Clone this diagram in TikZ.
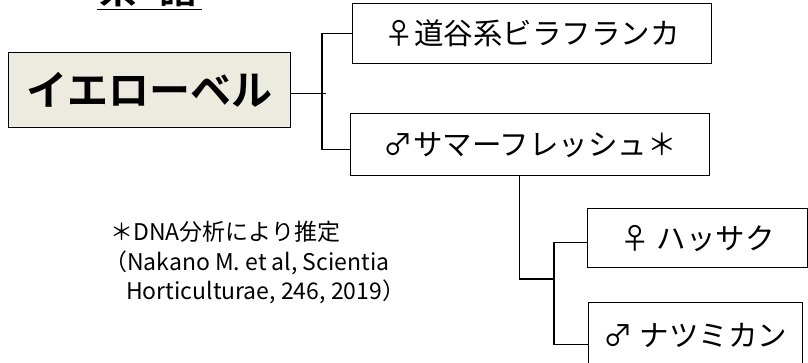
\documentclass[tikz,border=0pt]{standalone}
\usepackage{fontspec}
\setmainfont{Noto Sans CJK JP}
\newfontfamily\jpbold{Noto Sans CJK JP Bold}
\begin{document}
\begin{tikzpicture}[x=1pt,y=-1pt,
  cbox/.style={draw=black,line width=1.3pt,fill=white,inner sep=0pt,anchor=north west,font=\fontsize{29.5}{31}\selectfont},
  note/.style={anchor=west,inner sep=0pt,font=\fontsize{23}{25}\selectfont},
  link/.style={line width=1.2pt}]
\useasboundingbox (0,0) rectangle (808,362);
\clip (0,0) rectangle (808,362);
% title (cut off at the top edge, as in the reference)
\node[anchor=base,inner sep=0pt,font=\jpbold\fontsize{38}{40}\selectfont] (title1) at (118,3) {系};
\node[anchor=base,inner sep=0pt,font=\jpbold\fontsize{38}{40}\selectfont] (title2) at (178,3) {譜};
\draw[line width=1.5pt] (97,9.5) coordinate (ul1) -- (202,9.5) coordinate (ul2);
% main
\node[cbox,fill={rgb,255:red,237;green,234;blue,223},minimum width=282pt,minimum height=75pt,font=\jpbold\fontsize{41}{43}\selectfont] (main) at (8,52) {イエローベル};
\node[cbox,minimum width=359pt,minimum height=60pt] (p1) at (352,3) {♀道谷系ビラフランカ};
\node[cbox,minimum width=359pt,minimum height=62pt] (p2) at (350,113) {♂サマーフレッシュ＊};
\node[cbox,minimum width=220pt,minimum height=59pt] (p3) at (587,208) {♀ ハッサク};
\node[cbox,minimum width=214pt,minimum height=66pt] (p4) at (588,302) {♂ ナツミカン};
% connectors
\coordinate (j1) at (322,86);
\draw[link] ([yshift=-3.5pt]main.east) -- ++(35,0);
\draw[link] (p1.west) -| (j1) ;
\draw[link] (j1) |- ([yshift=-5pt]p2.west);
\coordinate (j2) at (554,279);
\draw[link] ([xshift=-11pt]p2.south) |- (j2);
\draw[link] ([yshift=-4.5pt]p3.west) -| (j2);
\draw[link] (j2) |- ([yshift=-9pt]p4.west);
% note
\node[note] (n1) at (110,232) {＊DNA分析により推定};
\node[note] (n2) at (104,263) {（Nakano M. et al, Scientia};
\node[note] (n3) at (126,292) {Horticulturae, 246, 2019）};
\end{tikzpicture}
\end{document}
